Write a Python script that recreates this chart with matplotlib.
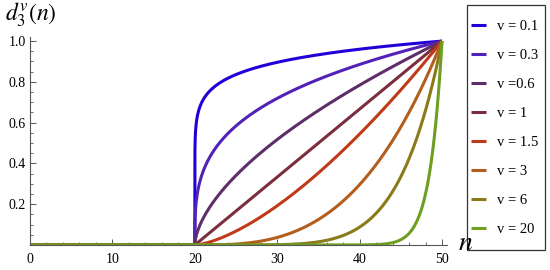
import numpy as np
import matplotlib
matplotlib.use("Agg")
import matplotlib.pyplot as plt
from matplotlib.patches import Rectangle
from matplotlib.ticker import MultipleLocator

plt.rcParams["font.family"] = ["Liberation Serif", "DejaVu Serif"]
plt.rcParams["mathtext.fontset"] = "stix"

# parameter values from the legend
v_values = [0.1, 0.3, 0.6, 1, 1.5, 3, 6, 20]
labels = ["v = 0.1", "v = 0.3", "v =0.6", "v = 1", "v = 1.5", "v = 3", "v = 6", "v = 20"]
colors = ["#2000d8", "#5222b8", "#5e2e6a", "#7c2e3e", "#c03a1a", "#b45e1e", "#8a7a18", "#6e9e22"]

# n range of the plot and the start of the nonzero part
n_min, n_start, n_max = 0, 20, 50

fig = plt.figure(figsize=(5.5, 2.7), dpi=100)
ax = fig.add_axes([30 / 550, 25 / 270, 417 / 550, 208 / 270])

n = np.concatenate([np.linspace(n_min, n_start, 50), n_start + 30 * np.linspace(0, 1, 2000) ** 4])
for v, lab, c in zip(v_values, labels, colors):
    d = np.where(n < n_start, 0.0, np.clip((n - n_start) / (n_max - n_start), 0, 1) ** v)
    ax.plot(n, d, color=c, lw=2.2, label=lab, solid_capstyle="butt")

ax.set_xlim(0, 50.6)
ax.set_ylim(0, 1.02)
for s in ["top", "right"]:
    ax.spines[s].set_visible(False)
for s in ["left", "bottom"]:
    ax.spines[s].set_color("#555555")
    ax.spines[s].set_linewidth(0.8)

ax.xaxis.set_major_locator(MultipleLocator(10))
ax.xaxis.set_minor_locator(MultipleLocator(2))
ax.set_yticks([0.2, 0.4, 0.6, 0.8, 1.0])
ax.set_yticklabels(["0.2", "0.4", "0.6", "0.8", "1.0"])
ax.yaxis.set_minor_locator(MultipleLocator(0.05))
ax.tick_params(which="both", direction="in", color="#555555", labelsize=10, pad=3)
ax.tick_params(which="major", length=4, width=0.7)
ax.tick_params(which="minor", length=2, width=0.6)
ax.tick_params(axis="x", pad=6)

fig.text(5 / 550, 1 - 15 / 270, r"$d_3^v(n)$", fontsize=17, va="center", ha="left")
fig.text(458 / 550, 1 - 244 / 270, r"$n$", fontsize=20, va="center", ha="left")

# legend box drawn by hand so the padding matches
fig.patches.append(Rectangle((467 / 550, 1 - 250 / 270), 78 / 550, 245 / 270,
                             transform=fig.transFigure, fill=False,
                             edgecolor="#333333", linewidth=0.9))
leg = ax.legend(loc="upper left", bbox_to_anchor=(471 / 550, 1 - 20 / 270),
                bbox_transform=fig.transFigure, frameon=False,
                fontsize=10.5, handlelength=1.0, handletextpad=0.8,
                labelspacing=1.08, borderpad=0, borderaxespad=0)

fig.savefig("out.png", dpi=100)
